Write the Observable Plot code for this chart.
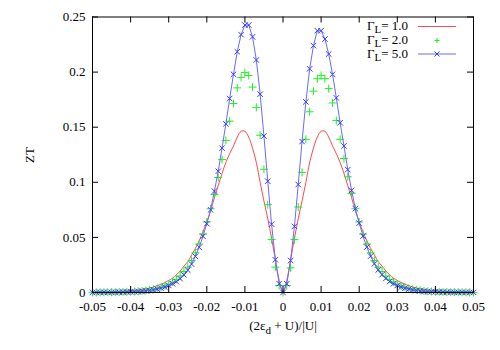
<!DOCTYPE html>
<html><head><meta charset="utf-8">
<script src="https://cdn.jsdelivr.net/npm/d3@7"></script>
<script src="https://cdn.jsdelivr.net/npm/@observablehq/plot@0.6"></script>
<style>
body{margin:0;background:#fff;}
#chart{width:500px;height:350px;}
</style></head><body><div id="chart"></div>
<script>
// x positions: (2ε_d + U)/|U|
const xVals = [-0.05,-0.049,-0.048,-0.047,-0.046,-0.045,-0.044,-0.043,-0.042,-0.041,
-0.04,-0.039,-0.038,-0.037,-0.036,-0.035,-0.034,-0.033,-0.032,-0.031,
-0.03,-0.029,-0.028,-0.027,-0.026,-0.025,-0.024,-0.023,-0.022,-0.021,
-0.02,-0.019,-0.018,-0.017,-0.016,-0.015,-0.014,-0.013,-0.012,-0.011,
-0.01,-0.009,-0.008,-0.007,-0.006,-0.005,-0.004,-0.003,-0.002,-0.001,
0,
0.001,0.002,0.003,0.004,0.005,0.006,0.007,0.008,0.009,0.01,
0.011,0.012,0.013,0.014,0.015,0.016,0.017,0.018,0.019,0.02,
0.021,0.022,0.023,0.024,0.025,0.026,0.027,0.028,0.029,0.03,
0.031,0.032,0.033,0.034,0.035,0.036,0.037,0.038,0.039,0.04,
0.041,0.042,0.043,0.044,0.045,0.046,0.047,0.048,0.049,0.05];

// ZT for Γ_L = 1.0 (red line)
const ztG10 = [0.0003,0.0003,0.0004,0.0004,0.0005,0.0006,0.0008,0.0009,0.0011,0.0013,
0.0016,0.0019,0.0023,0.0028,0.0034,0.0041,0.005,0.0062,0.0075,0.009,
0.011,0.013,0.016,0.0195,0.024,0.028,0.034,0.040,0.047,0.055,
0.064,0.074,0.086,0.097,0.108,0.118,0.126,0.133,0.141,0.1463,
0.1463,0.141,0.131,0.118,0.100,0.083,0.067,0.049,0.030,0.011,
0,
0.011,0.030,0.049,0.067,0.083,0.100,0.118,0.131,0.141,0.1463,
0.1463,0.141,0.133,0.126,0.118,0.108,0.097,0.086,0.074,0.064,
0.055,0.047,0.040,0.034,0.028,0.024,0.0195,0.016,0.013,0.011,
0.009,0.0075,0.0062,0.005,0.0041,0.0034,0.0028,0.0023,0.0019,0.0016,
0.0013,0.0011,0.0009,0.0008,0.0006,0.0005,0.0004,0.0004,0.0003,0.0003];

// ZT for Γ_L = 2.0 (green plus points)
const ztG20 = [0.0001,0.0001,0.0002,0.0002,0.0002,0.0003,0.0003,0.0004,0.0005,0.0006,
0.0007,0.0009,0.0011,0.0014,0.0018,0.0023,0.0029,0.0037,0.0047,0.006,
0.0076,0.0096,0.012,0.015,0.019,0.023,0.029,0.036,0.044,0.053,
0.064,0.076,0.089,0.1043,0.1206,0.138,0.1555,0.1715,0.1857,0.1952,
0.1997,0.197,0.1864,0.168,0.1427,0.1118,0.0797,0.048,0.023,0.0064,
0,
0.0064,0.0224,0.048,0.0776,0.109,0.139,0.164,0.1827,0.194,0.197,
0.194,0.185,0.172,0.156,0.139,0.1215,0.105,0.090,0.076,0.064,
0.053,0.044,0.036,0.029,0.023,0.019,0.015,0.012,0.0096,0.0076,
0.006,0.0047,0.0037,0.0029,0.0023,0.0018,0.0014,0.0011,0.0009,0.0007,
0.0006,0.0005,0.0004,0.0003,0.0003,0.0002,0.0002,0.0002,0.0001,0.0001];

// ZT for Γ_L = 5.0 (blue line + times points)
const ztG50 = [0.0001,0.0001,0.0001,0.0002,0.0002,0.0002,0.0003,0.0003,0.0004,0.0005,
0.0006,0.0007,0.0009,0.0011,0.0014,0.0018,0.0023,0.003,0.0038,0.0049,
0.0064,0.0079,0.0098,0.0126,0.016,0.0203,0.0258,0.0328,0.041,0.051,
0.0625,0.075,0.092,0.110,0.131,0.153,0.176,0.198,0.2185,0.234,
0.2427,0.2427,0.232,0.211,0.180,0.142,0.101,0.062,0.0297,0.008,
0,
0.008,0.029,0.060,0.098,0.137,0.173,0.203,0.224,0.2376,0.2376,
0.230,0.2164,0.198,0.1766,0.154,0.133,0.1115,0.0927,0.076,0.063,
0.0512,0.0412,0.033,0.026,0.0205,0.0162,0.0128,0.010,0.0079,0.0064,
0.0048,0.0038,0.003,0.0023,0.0018,0.0014,0.0011,0.0009,0.0007,0.0006,
0.0005,0.0004,0.0003,0.0003,0.0002,0.0002,0.0002,0.0001,0.0001,0.0001];

const xTicks = [-0.05,-0.04,-0.03,-0.02,-0.01,0,0.01,0.02,0.03,0.04,0.05];
const yTicks = [0,0.05,0.1,0.15,0.2,0.25];
const seriesNames = ["1.0","2.0","5.0"];
const seriesColors = ["#ff4a4a","#22ee22","#3a3aff"];

const W = 500, H = 350, mL = 92, mR = 27, mT = 16.5, mB = 58;
const innerW = W - mL - mR, innerH = H - mT - mB;
const rows = xVals.map((x, i) => ({x, r: ztG10[i], g: ztG20[i], b: ztG50[i]}));
const fx = d => d === 0 ? "0" : d.toFixed(2);
const fy = d => d === 0 ? "0" : String(+d.toFixed(2));

const svg = Plot.plot({
  width: W, height: H,
  marginLeft: mL, marginRight: mR, marginTop: mT, marginBottom: mB,
  style: {fontFamily: "'Liberation Serif', serif", fontSize: "13px", background: "#fff", color: "#000"},
  x: {domain: [-0.05, 0.05]},
  y: {domain: [0, 0.25]},
  marks: [
    Plot.line(rows, {x: "x", y: "r", stroke: seriesColors[0], strokeWidth: 1, curve: "catmull-rom"}),
    Plot.dot(rows, {x: "x", y: "g", symbol: "plus", stroke: seriesColors[1], r: 2.7, strokeWidth: 1}),
    Plot.line(rows, {x: "x", y: "b", stroke: "#6a6aff", strokeWidth: 1}),
    Plot.dot(rows, {x: "x", y: "b", symbol: "times", stroke: seriesColors[2], r: 2.6, strokeWidth: 1}),
    Plot.tickX(xTicks, {x: d => d, insetTop: innerH - 6, stroke: "#000"}),
    Plot.tickX(xTicks, {x: d => d, insetBottom: innerH - 6, stroke: "#000"}),
    Plot.tickY(yTicks, {y: d => d, insetRight: innerW - 6, stroke: "#000"}),
    Plot.tickY(yTicks, {y: d => d, insetLeft: innerW - 6, stroke: "#000"}),
    Plot.axisX(xTicks, {tickSize: 0, tickPadding: 9, tickFormat: fx, label: null}),
    Plot.axisY(yTicks, {tickSize: 0, tickPadding: 7, tickFormat: fy, label: null}),
    Plot.frame({stroke: "#000"})
  ]
});

const s = d3.select(svg);
const font = "'Liberation Serif', serif";
// axis titles
const xl = s.append("text").attr("x", 283).attr("y", 330).attr("text-anchor", "middle")
  .attr("font-family", font).attr("font-size", 13).attr("fill", "#000");
xl.append("tspan").text("(2ε");
xl.append("tspan").attr("dy", 4).attr("font-size", 11).text("d");
xl.append("tspan").attr("dy", -4).text(" + U)/|U|");
s.append("text").attr("transform", "translate(34,155) rotate(-90)").attr("text-anchor", "middle")
  .attr("font-family", font).attr("font-size", 13).attr("fill", "#000").text("ZT");

// legend
const lg = s.append("g").attr("font-family", font).attr("font-size", 13).attr("fill", "#000");
const rowY = [30, 44, 57.5];
seriesNames.forEach((nm, i) => {
  const t = lg.append("text").attr("x", 408).attr("y", rowY[i]).attr("text-anchor", "end");
  t.append("tspan").text("Γ");
  t.append("tspan").attr("dy", 3).attr("font-size", 11).text("L");
  t.append("tspan").attr("dy", -3).text("= " + nm);
  const cy = rowY[i] - 3.5;
  if (i === 0) {
    lg.append("line").attr("x1", 418).attr("x2", 456).attr("y1", cy).attr("y2", cy)
      .attr("stroke", seriesColors[0]).attr("stroke-width", 1);
  }
  if (i === 1) {
    lg.append("path").attr("d", "M434.5,"+cy+"h5M437,"+(cy-2.5)+"v5").attr("stroke", seriesColors[1]).attr("fill", "none");
  }
  if (i === 2) {
    lg.append("line").attr("x1", 418).attr("x2", 456).attr("y1", cy).attr("y2", cy)
      .attr("stroke", "#6a6aff").attr("stroke-width", 1);
    lg.append("path").attr("d", "M434.5,"+(cy-2.5)+"l5,5M434.5,"+(cy+2.5)+"l5,-5").attr("stroke", seriesColors[2]).attr("fill", "none");
  }
});

document.getElementById("chart").appendChild(svg);
</script>
</body></html>
